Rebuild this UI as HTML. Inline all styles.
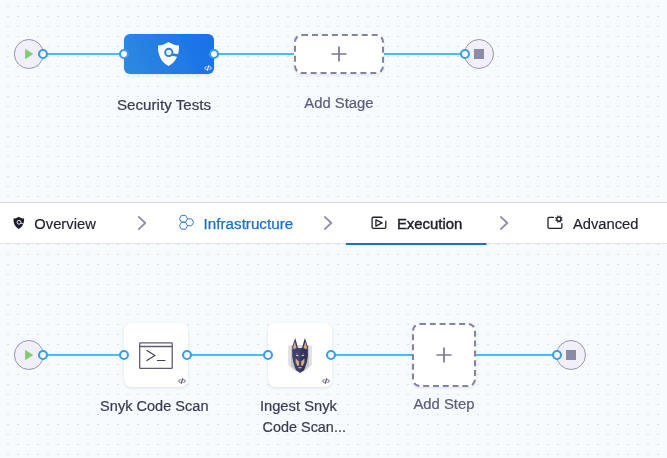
<!DOCTYPE html>
<html lang="en">
<head>
<meta charset="utf-8">
<title>Pipeline Studio</title>
<style>
  html, body { margin: 0; padding: 0; }
  body { width: 667px; height: 458px; overflow: hidden; background: #f8fbfe; font-family: "Liberation Sans", sans-serif; }
  svg { display: block; position: absolute; left: 0; top: 0; will-change: transform; }
  text { font-family: "Liberation Sans", sans-serif; font-size: 14px; }
  .dash { position: absolute; box-sizing: border-box; background: #fff; border: 2px dashed #8384a1; box-shadow: 0 1px 3px rgba(96,97,122,0.18); }
</style>
</head>
<body>
<svg width="667" height="458" viewBox="0 0 667 458">
  <defs>
    <pattern id="dotsTop" x="2" y="0" width="10" height="10" patternUnits="userSpaceOnUse">
      <rect x="5" y="6" width="2" height="1" fill="#dfe1e7"/>
    </pattern>
    <pattern id="dotsBot" x="2" y="244" width="10" height="10" patternUnits="userSpaceOnUse">
      <rect x="5" y="0" width="2" height="1" fill="#dfe1e7"/>
    </pattern>
    <linearGradient id="blueGrad" x1="0" y1="0.600" x2="1" y2="0.400">
      <stop offset="0" stop-color="#2c88df"/>
      <stop offset="1" stop-color="#1a71e8"/>
    </linearGradient>
    <filter id="shadow" x="-20%" y="-20%" width="140%" height="150%">
      <feDropShadow dx="0" dy="1" stdDeviation="1.5" flood-color="#60617a" flood-opacity="0.18"/>
    </filter>
    <g id="codeIcon" fill="none" stroke-linecap="butt" stroke-linejoin="miter">
      <path d="M2.700 0.900 L0.800 2.850 L2.700 4.800" stroke-width="1.250" opacity="0.550"/>
      <path d="M5.500 0.900 L7.400 2.850 L5.500 4.800" stroke-width="1.250" opacity="0.550"/>
      <path d="M4.800 0.200 L3.400 5.500" stroke-width="1.100"/>
    </g>
  </defs>

  <!-- backgrounds -->
  <rect x="0" y="0" width="667" height="202" fill="#f8fbfe"/>
  <rect x="0" y="0" width="667" height="202" fill="url(#dotsTop)"/>
  <rect x="0" y="244" width="667" height="214" fill="#f8fbfe"/>
  <rect x="0" y="244" width="667" height="214" fill="url(#dotsBot)"/>

  <!-- ============ TOP PIPELINE (stages) ============ -->
  <g>
    <!-- links -->
    <line x1="43" y1="54" x2="124" y2="54" stroke="#49bcf1" stroke-width="2"/>
    <line x1="214" y1="54" x2="294" y2="54" stroke="#49bcf1" stroke-width="2"/>
    <line x1="384" y1="54" x2="465" y2="54" stroke="#49bcf1" stroke-width="2"/>

    <!-- start node -->
    <circle cx="28.900" cy="54" r="14.500" fill="#f1f0fa" stroke="#9696ae" stroke-width="1"/>
    <path d="M25.500 49.400 L32.600 54 L25.500 58.600 Z" fill="#7fcb70" stroke="#7fcb70" stroke-width="0.800" stroke-linejoin="round"/>
    <circle cx="43" cy="54" r="3.950" fill="#ffffff" stroke="#3a9cf1" stroke-width="2.100"/>

    <!-- Security Tests stage -->
    <rect x="124" y="34" width="90" height="40" rx="6" ry="6" fill="url(#blueGrad)" filter="url(#shadow)"/>
    <!-- shield icon -->
    <path d="M168.5 42 C171.5 44 175 45.2 179 45.6 C179.3 54 176.5 62 168.5 66 C160.5 62 157.7 54 158 45.6 C162 45.2 165.500 44 168.500 42 Z" fill="#ffffff"/>
    <circle cx="168.800" cy="52.400" r="3.650" fill="#ffffff" stroke="#2380e3" stroke-width="1.900"/>
    <path d="M172.200 53.300 L179.300 54.300 L178.600 57.300 L171.500 55.500 Z" fill="#2380e3"/>
    <use href="#codeIcon" x="203.900" y="65.200" stroke="#ffffff"/>
    <circle cx="124" cy="54" r="3.950" fill="#ffffff" stroke="#3a9cf1" stroke-width="2.100"/>
    <circle cx="214" cy="54" r="3.950" fill="#ffffff" stroke="#3a9cf1" stroke-width="2.100"/>
    <text x="117" y="109.900" fill="#3a3b52" stroke="#3a3b52" stroke-width="0.200" textLength="94" lengthAdjust="spacingAndGlyphs">Security Tests</text>

    <!-- Add Stage -->
    <text x="304.300" y="107.700" fill="#5c5d7a" stroke="#5c5d7a" stroke-width="0.200" textLength="69.300" lengthAdjust="spacingAndGlyphs">Add Stage</text>

    <!-- end node -->
    <circle cx="479" cy="54" r="14.500" fill="#f1f0fa" stroke="#9696ae" stroke-width="1"/>
    <rect x="474" y="49" width="10" height="10" fill="#8b8ca3"/>
    <circle cx="465" cy="54" r="3.950" fill="#ffffff" stroke="#3a9cf1" stroke-width="2.100"/>
  </g>

  <!-- ============ TAB BAR ============ -->
  <g>
    <rect x="0" y="202" width="667" height="42" fill="#ffffff"/>
    <rect x="0" y="202" width="667" height="1" fill="#d4d6e4"/>
    <rect x="0" y="243" width="667" height="1" fill="#e5e7ef"/>

    <!-- Overview -->
    <path d="M18.800 216.700 C20.300 217.700 22.200 218.400 24.100 218.600 C24.300 222.900 22.900 226.800 18.800 229 C14.700 226.800 13.300 222.900 13.500 218.600 C15.400 218.400 17.300 217.700 18.800 216.700 Z" fill="#1d1e2c"/>
    <circle cx="19" cy="222.300" r="1.900" fill="#1d1e2c" stroke="#ffffff" stroke-width="0.900"/>
    <path d="M20.700 223.100 L23.600 223.900" stroke="#ffffff" stroke-width="0.800"/>
    <text x="34.300" y="229" fill="#22222c" stroke="#22222c" stroke-width="0.150" textLength="61.500" lengthAdjust="spacingAndGlyphs">Overview</text>
    <path d="M138.800 216.900 L145.300 223 L138.800 229.100" fill="none" stroke="#8d8fac" stroke-width="1.800" stroke-linecap="round" stroke-linejoin="round"/>

    <!-- Infrastructure -->
    <g fill="none" stroke="#2f7fd8" stroke-width="1" stroke-linejoin="round">
      <path d="M181.400 215.400 L185.600 215.400 L187.500 218.800 L185.600 222.200 L181.400 222.200 L179.500 218.800 Z"/>
      <path d="M181.400 222.200 L185.600 222.200 L187.500 225.700 L185.600 229.200 L181.400 229.200 L179.500 225.700 Z"/>
      <path d="M187.500 218.800 L191.600 218.800 L193.600 222.200 L191.600 225.700 L187.500 225.700"/>
    </g>
    <text x="203.600" y="229" fill="#1b6fca" stroke="#1b6fca" stroke-width="0.250" textLength="89.600" lengthAdjust="spacingAndGlyphs">Infrastructure</text>
    <path d="M324.800 216.900 L331.300 223 L324.800 229.100" fill="none" stroke="#8d8fac" stroke-width="1.800" stroke-linecap="round" stroke-linejoin="round"/>

    <!-- Execution -->
    <g fill="none" stroke="#22222c" stroke-width="1.300" stroke-linejoin="round" stroke-linecap="round">
      <path d="M381.900 217.250 H373.300 Q372.100 217.250 372.100 218.450 V227.100 Q372.100 228.300 373.300 228.300 H384.600 Q385.800 228.300 385.800 227.100 V221.200"/>
      <path d="M375.900 219.800 L382.100 222.950 L375.900 226.100 Z"/>
    </g>
    <text x="396.900" y="229" fill="#22222c" stroke="#22222c" stroke-width="0.400" textLength="65.500" lengthAdjust="spacingAndGlyphs">Execution</text>
    <rect x="345.800" y="243" width="140.700" height="2" fill="#1b6fd1"/>
    <path d="M500.800 216.900 L507.300 223 L500.800 229.100" fill="none" stroke="#8d8fac" stroke-width="1.800" stroke-linecap="round" stroke-linejoin="round"/>

    <!-- Advanced -->
    <g fill="none" stroke="#22222c" stroke-width="1.300" stroke-linejoin="round" stroke-linecap="round">
      <path d="M553.500 217.350 H549.200 Q548 217.350 548 218.550 V227.100 Q548 228.300 549.200 228.300 H560.700 Q561.900 228.300 561.900 227.100 V223.700"/>
    </g>
    <circle cx="558.900" cy="219.100" r="2.150" fill="none" stroke="#22222c" stroke-width="1.500"/>
    <path d="M561.394 220.133 L562.365 220.535 M559.933 221.594 L560.335 222.565 M557.867 221.594 L557.465 222.565 M556.406 220.133 L555.435 220.535 M556.406 218.067 L555.435 217.665 M557.867 216.606 L557.465 215.635 M559.933 216.606 L560.335 215.635 M561.394 218.067 L562.365 217.665" fill="none" stroke="#22222c" stroke-width="1.250"/>
    <text x="573" y="229" fill="#22222c" stroke="#22222c" stroke-width="0.150" textLength="65.500" lengthAdjust="spacingAndGlyphs">Advanced</text>
  </g>

  <!-- ============ BOTTOM PIPELINE (steps) ============ -->
  <g>
    <!-- links -->
    <line x1="43" y1="355" x2="124" y2="355" stroke="#49bcf1" stroke-width="2"/>
    <line x1="188" y1="355" x2="268" y2="355" stroke="#49bcf1" stroke-width="2"/>
    <line x1="332" y1="355" x2="412" y2="355" stroke="#49bcf1" stroke-width="2"/>
    <line x1="476" y1="355" x2="557" y2="355" stroke="#49bcf1" stroke-width="2"/>

    <!-- start node -->
    <circle cx="28.900" cy="355" r="14.500" fill="#f1f0fa" stroke="#9696ae" stroke-width="1"/>
    <path d="M25.500 350.400 L32.600 355 L25.500 359.600 Z" fill="#7fcb70" stroke="#7fcb70" stroke-width="0.800" stroke-linejoin="round"/>
    <circle cx="43" cy="355" r="3.950" fill="#ffffff" stroke="#3a9cf1" stroke-width="2.100"/>

    <!-- Snyk Code Scan step -->
    <rect x="124" y="323" width="64" height="64" rx="8" ry="8" fill="#ffffff" filter="url(#shadow)"/>
    <g fill="none" stroke="#5b5d74" stroke-width="1.300" stroke-linejoin="miter">
      <rect x="139.700" y="342.800" width="32.500" height="25.500" rx="0.600"/>
      <path d="M139.700 346.500 H172.200"/>
    </g>
    <g fill="none" stroke="#3f4157" stroke-width="1.150" stroke-linejoin="miter" stroke-linecap="round">
      <path d="M146.900 350.400 L154.900 355.600 L146.900 360.600"/>
      <path d="M157.400 360.500 H165"/>
    </g>
    <use href="#codeIcon" x="177.900" y="378.200" stroke="#3f4157"/>
    <circle cx="124" cy="355" r="3.950" fill="#ffffff" stroke="#3a9cf1" stroke-width="2.100"/>
    <circle cx="187" cy="355" r="3.950" fill="#ffffff" stroke="#3a9cf1" stroke-width="2.100"/>
    <text x="100.100" y="410.800" fill="#3a3b52" stroke="#3a3b52" stroke-width="0.200" textLength="108.400" lengthAdjust="spacingAndGlyphs">Snyk Code Scan</text>

    <!-- Ingest Snyk Code Scan step -->
    <rect x="268" y="323" width="64" height="64" rx="8" ry="8" fill="#ffffff" filter="url(#shadow)"/>
    <g id="snykDog">
      <!-- grey shield backdrop -->
      <path d="M288.100 345.500 H311.900 V365 L305 371.500 H295 L288.100 365 Z" fill="#e1e1e2"/>
      <path d="M291 345.500 H309 V366 L303.500 371 H296.500 L291 366 Z" fill="#c5c5c7"/>
      <rect x="296.800" y="345.500" width="6.400" height="2.600" fill="#dcdcde"/>
      <!-- ears -->
      <path d="M295.200 338 L296.400 342 L298 348.200 L292.300 351.500 L292.300 346.400 L293.800 342.200 Z" fill="#3e3f6c"/>
      <path d="M304.900 338 L303.700 342 L302.100 348.200 L307.800 351.500 L307.800 346.400 L306.300 342.200 Z" fill="#34355c"/>
      <path d="M294.900 341.800 L296.600 348.400 L293.400 349.800 L293.300 346.600 Z" fill="#d6ab86"/>
      <path d="M305.200 341.800 L303.500 348.400 L306.700 349.800 L306.800 346.600 Z" fill="#d6ab86"/>
      <!-- head -->
      <path d="M292.300 349.800 L297.600 347.700 L300.050 348.200 L300.050 373.100 L296.300 370.400 L294.900 367.500 L293.100 361.500 L292.200 356 Z" fill="#3f406e"/>
      <path d="M307.800 349.800 L302.500 347.700 L300.050 348.200 L300.050 373.100 L303.800 370.400 L305.200 367.500 L307 361.500 L307.900 356 Z" fill="#33345b"/>
      <!-- tan markings -->
      <path d="M295.700 358.600 L298.700 361.300 L299.200 365.300 L297.400 366 L295.600 362 Z" fill="#d6ab86"/>
      <path d="M304.400 358.600 L301.400 361.300 L300.900 365.300 L302.700 366 L304.500 362 Z" fill="#d6ab86"/>
      <path d="M298.200 366.900 L301.900 366.900 L301.300 368.300 L298.800 368.300 Z" fill="#d6ab86"/>
      <path d="M296.200 353.400 L297.800 353.700 L297.700 354.300 L296.300 354.100 Z" fill="#d6ab86"/>
      <path d="M303.900 353.400 L302.300 353.700 L302.400 354.300 L303.800 354.100 Z" fill="#d6ab86"/>
      <!-- eyes -->
      <path d="M295.800 354.800 L298.700 355.200 L298.500 356.200 L296.200 355.900 Z" fill="#c9cce0"/>
      <path d="M304.300 354.800 L301.400 355.200 L301.600 356.200 L303.900 355.900 Z" fill="#c9cce0"/>
    </g>
    <use href="#codeIcon" x="321.900" y="378.200" stroke="#3f4157"/>
    <circle cx="268" cy="355" r="3.950" fill="#ffffff" stroke="#3a9cf1" stroke-width="2.100"/>
    <circle cx="331" cy="355" r="3.950" fill="#ffffff" stroke="#3a9cf1" stroke-width="2.100"/>
    <text x="259.900" y="411" fill="#3a3b52" stroke="#3a3b52" stroke-width="0.200" textLength="77" lengthAdjust="spacingAndGlyphs">Ingest Snyk</text>
    <text x="262.600" y="431.700" fill="#3a3b52" stroke="#3a3b52" stroke-width="0.200" textLength="83.300" lengthAdjust="spacingAndGlyphs">Code Scan...</text>

    <!-- Add Step -->
    <text x="413.400" y="408.700" fill="#5c5d7a" stroke="#5c5d7a" stroke-width="0.200" textLength="61" lengthAdjust="spacingAndGlyphs">Add Step</text>

    <!-- end node -->
    <circle cx="571" cy="355" r="14.500" fill="#f1f0fa" stroke="#9696ae" stroke-width="1"/>
    <rect x="566" y="350" width="10" height="10" fill="#8b8ca3"/>
    <circle cx="557" cy="355" r="3.950" fill="#ffffff" stroke="#3a9cf1" stroke-width="2.100"/>
  </g>
</svg>
<div class="dash" style="left:294px;top:34px;width:90px;height:40px;border-radius:8px;"></div>
<div class="dash" style="left:412px;top:323px;width:64px;height:64px;border-radius:8px;"></div>
<svg width="667" height="458" viewBox="0 0 667 458" style="pointer-events:none">
  <path d="M331.500 54 H346.500 M339 46.500 V61.500" stroke="#777996" stroke-width="1.700" fill="none"/>
  <path d="M436.500 355 H451.500 M444 347.500 V362.500" stroke="#777996" stroke-width="1.700" fill="none"/>
</svg>
</body>
</html>
